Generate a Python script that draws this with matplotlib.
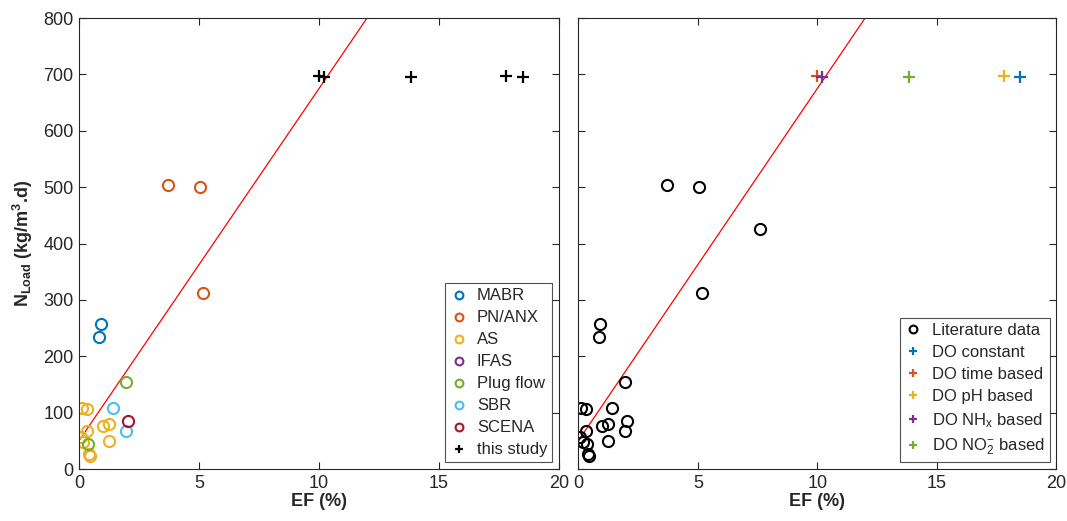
"""Nitrogen loading rate against EF (%) for literature reactors and this study."""

import matplotlib

matplotlib.use("Agg")
import matplotlib.pyplot as plt
import numpy as np

plt.rcParams["font.family"] = ["Liberation Sans", "DejaVu Sans"]
plt.rcParams["mathtext.fontset"] = "custom"
plt.rcParams["mathtext.rm"] = "Liberation Sans"
plt.rcParams["mathtext.it"] = "Liberation Sans:italic"
plt.rcParams["mathtext.bf"] = "Liberation Sans:bold"

# literature data by reactor type (EF %, N load kg/m3.d)
mabr_ef = [0.90, 0.85]
mabr_load = [257, 234]
pnanx_ef = [3.72, 5.04, 5.18]
pnanx_load = [504, 501, 312]
as_ef = [0.11, 0.32, 0.07, 0.32, 1.01, 1.25, 1.26, 0.42, 0.45, 0.18]
as_load = [108, 106, 57, 67, 77, 79, 50, 26, 23, 48]
ifas_ef = [7.6]
ifas_load = [425]
plug_ef = [1.94, 0.36]
plug_load = [155, 45]
sbr_ef = [1.43, 1.94]
sbr_load = [108, 68]
scena_ef = [2.04]
scena_load = [86]

# this study, one point per DO control strategy
do_names = ["DO constant", "DO time based", "DO pH based",
            r"DO NH$_\mathregular{x}$ based", r"DO NO$_\mathregular{2}^\mathregular{-}$ based"]
do_ef = [18.5, 10.0, 17.8, 10.2, 13.85]
do_load = [696, 698, 698, 696, 696]

# linear trend line
trend_ef = [0.0, 12.0]
trend_load = [50.0, 800.0]

colors = ["#0072BD", "#D95319", "#EDB120", "#7E2F8E", "#77AC30", "#4DBEEE", "#A2142F"]
axis_col = "#262626"

groups = [
    ("MABR", mabr_ef, mabr_load),
    ("PN/ANX", pnanx_ef, pnanx_load),
    ("AS", as_ef, as_load),
    ("IFAS", [], []),
    ("Plug flow", plug_ef, plug_load),
    ("SBR", sbr_ef, sbr_load),
    ("SCENA", scena_ef, scena_load),
]

fig = plt.figure(figsize=(10.67, 5.21), dpi=100)
ax1 = fig.add_axes([0.074, 0.0998, 0.450, 0.8656])
ax2 = fig.add_axes([0.542, 0.0998, 0.448, 0.8656])

circ = dict(marker="o", linestyle="none", markersize=8, markerfacecolor="none", markeredgewidth=1.5)
plus = dict(marker="+", linestyle="none", markersize=9, markeredgewidth=1.6)

# left panel: colour by reactor type
ax1.plot(trend_ef, trend_load, color="red", linewidth=0.9)
for (name, xs, ys), c in zip(groups, colors):
    ax1.plot(xs, ys, color=c, label=name, **circ)
ax1.plot(do_ef, do_load, color="black", label="this study", **plus)

# right panel: all literature in black, this study by strategy
lit_ef = np.concatenate([np.asarray(g[1], float) for g in groups] + [np.asarray(ifas_ef, float)])
lit_load = np.concatenate([np.asarray(g[2], float) for g in groups] + [np.asarray(ifas_load, float)])
ax2.plot(trend_ef, trend_load, color="red", linewidth=0.9)
ax2.plot(lit_ef, lit_load, color="black", label="Literature data", **circ)
for name, x, y, c in zip(do_names, do_ef, do_load, colors[:5]):
    ax2.plot([x], [y], color=c, label=name, **plus)

for ax in (ax1, ax2):
    ax.set_xlim(0, 20)
    ax.set_ylim(0, 800)
    ax.set_xticks([0, 5, 10, 15, 20])
    ax.set_yticks(range(0, 801, 100))
    ax.tick_params(direction="in", top=True, right=True, length=5, width=0.8,
                   labelsize=13, colors=axis_col, pad=4)
    for s in ax.spines.values():
        s.set_color(axis_col)
        s.set_linewidth(0.8)
    ax.set_xlabel("EF (%)", fontsize=13, fontweight="bold", color=axis_col, labelpad=1)

ax2.tick_params(labelleft=False)
ax1.set_ylabel(r"N$_\mathbf{Load}$ (kg/m$^\mathbf{3}$.d)", fontsize=13, fontweight="bold",
               color=axis_col, labelpad=6)

leg_kw = dict(loc="lower right", fontsize=12, frameon=True, fancybox=False,
              edgecolor=axis_col, borderaxespad=0.4, handlelength=1.0, handletextpad=0.6,
              borderpad=0.3, labelspacing=0.42, markerscale=0.7)
l1 = ax1.legend(**leg_kw)
l2 = ax2.legend(**leg_kw)
for l in (l1, l2):
    l.get_frame().set_linewidth(0.8)
    for t in l.get_texts():
        t.set_color(axis_col)

fig.savefig("out.png", dpi=100)
